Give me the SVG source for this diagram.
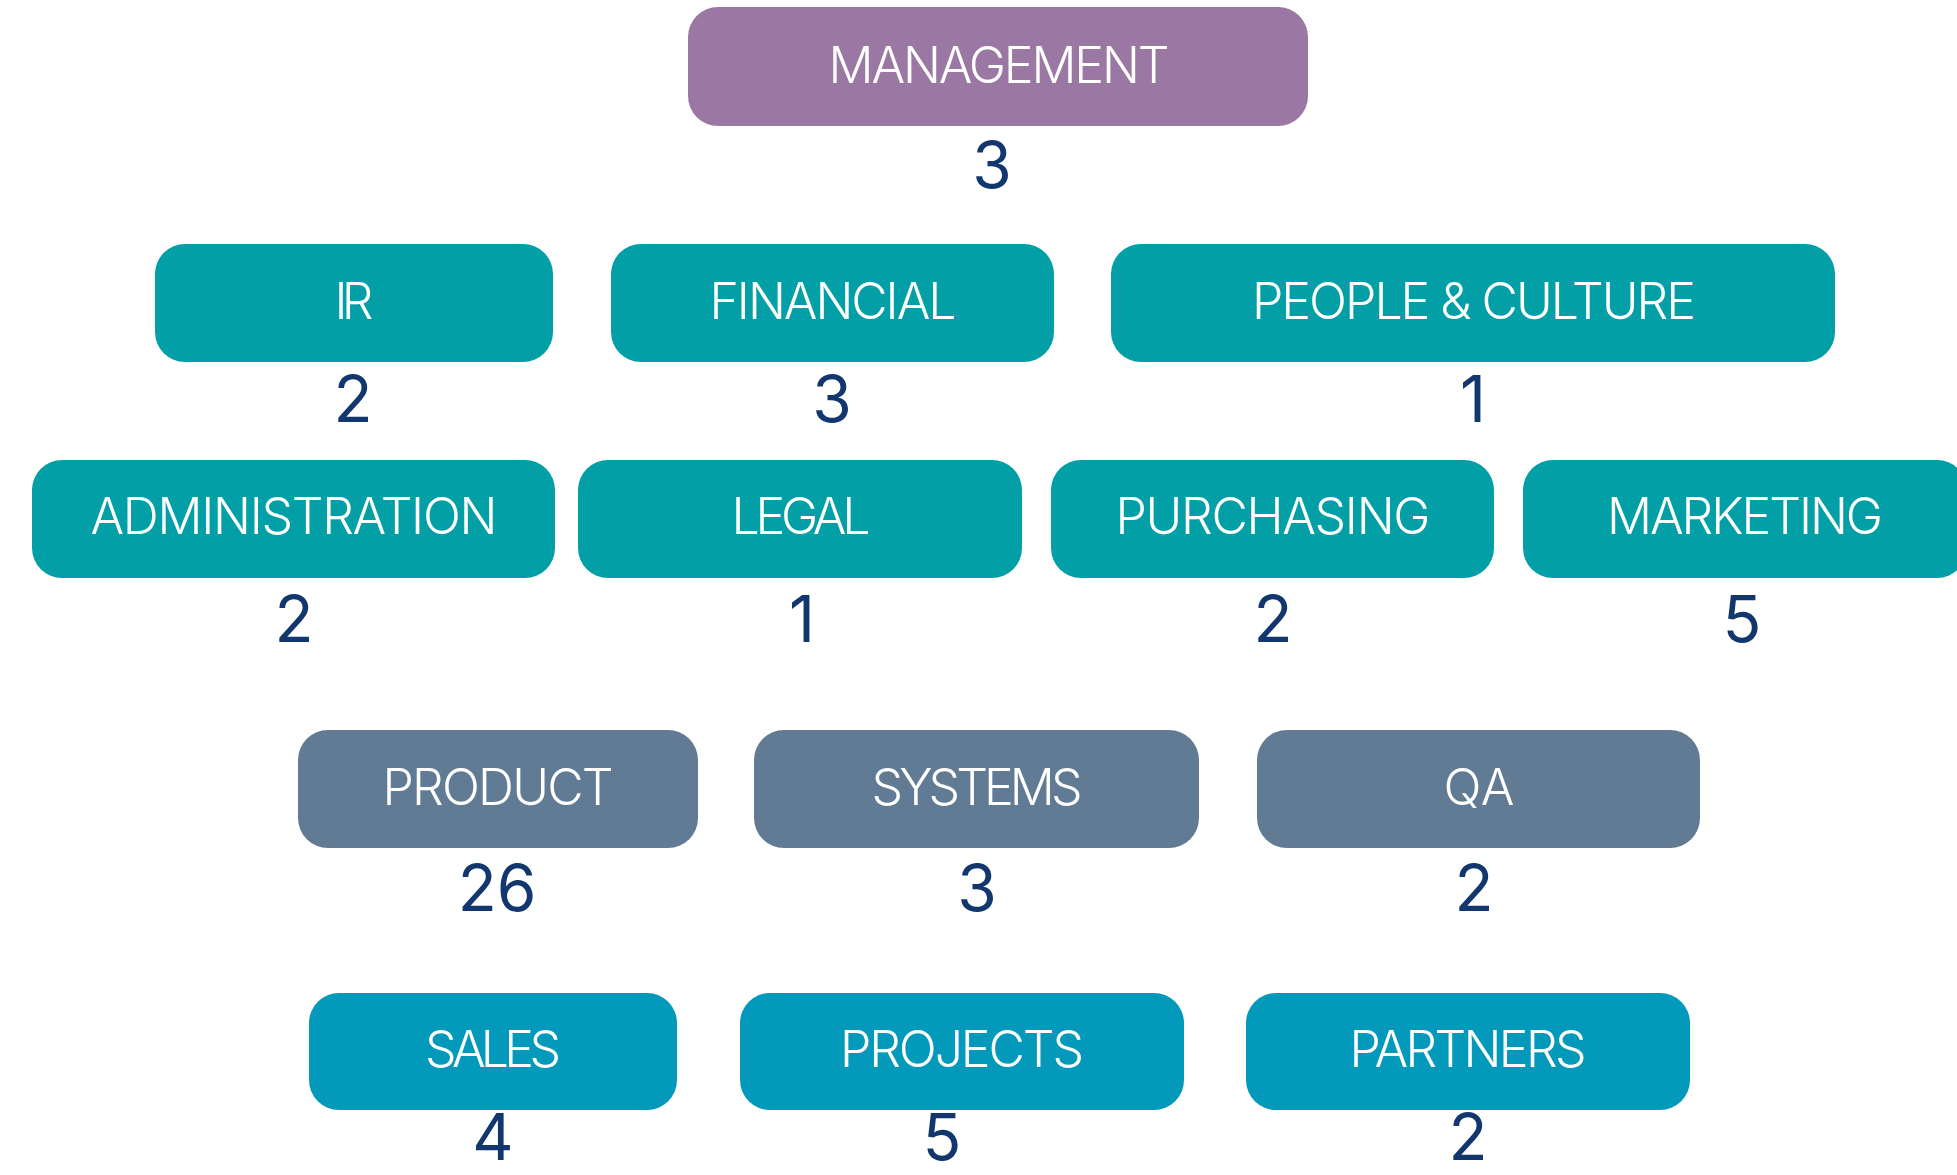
<svg xmlns="http://www.w3.org/2000/svg" width="1957" height="1175" viewBox="0 0 1957 1175">
<style>
.box{stroke:none}
.mg{fill:#9B78A3}
.tl{fill:#039FA6}
.sl{fill:#617B94}
.cy{fill:#0399BA}
.lb{font-family:Inter,"Open Sans","Liberation Sans",sans-serif;font-size:50px;font-weight:300;fill:#ffffff;text-anchor:middle}
.nm{font-family:Inter,"Open Sans","Liberation Sans",sans-serif;font-size:64px;fill:#12366E;text-anchor:middle}
</style>
<rect width="1957" height="1175" fill="#ffffff"/>
<g id="connectors"></g>
<g id="management"><rect class="box mg" x="688" y="7" width="620" height="119" rx="30"/><text class="lb" x="999" y="83" textLength="341">MANAGEMENT</text><text class="nm" x="992" y="188">3</text></g>
<g id="ir"><rect class="box tl" x="155" y="244" width="398" height="118" rx="30"/><text class="lb" x="354" y="319" textLength="39">IR</text><text class="nm" x="353" y="422">2</text></g>
<g id="financial"><rect class="box tl" x="611" y="244" width="443" height="118" rx="30"/><text class="lb" x="833" y="319" textLength="247">FINANCIAL</text><text class="nm" x="832" y="422">3</text></g>
<g id="people-culture"><rect class="box tl" x="1111" y="244" width="724" height="118" rx="30"/><text class="lb" x="1474" y="319" textLength="444">PEOPLE &amp; CULTURE</text><text class="nm" x="1473" y="422">1</text></g>
<g id="administration"><rect class="box tl" x="32" y="460" width="523" height="118" rx="30"/><text class="lb" x="294" y="534" textLength="407">ADMINISTRATION</text><text class="nm" x="294" y="642">2</text></g>
<g id="legal"><rect class="box tl" x="578" y="460" width="444" height="118" rx="30"/><text class="lb" x="801" y="534" textLength="139">LEGAL</text><text class="nm" x="802" y="642">1</text></g>
<g id="purchasing"><rect class="box tl" x="1051" y="460" width="443" height="118" rx="30"/><text class="lb" x="1273" y="534" textLength="315">PURCHASING</text><text class="nm" x="1273" y="642">2</text></g>
<g id="marketing"><rect class="box tl" x="1523" y="460" width="444" height="118" rx="30"/><text class="lb" x="1745" y="534" textLength="276">MARKETING</text><text class="nm" x="1742" y="642">5</text></g>
<g id="product"><rect class="box sl" x="298" y="730" width="400" height="118" rx="30"/><text class="lb" x="498" y="805" textLength="231">PRODUCT</text><text class="nm" x="497" y="911">26</text></g>
<g id="systems"><rect class="box sl" x="754" y="730" width="445" height="118" rx="30"/><text class="lb" x="977" y="805" textLength="211">SYSTEMS</text><text class="nm" x="977" y="911">3</text></g>
<g id="qa"><rect class="box sl" x="1257" y="730" width="443" height="118" rx="30"/><text class="lb" x="1479" y="805" textLength="71">QA</text><text class="nm" x="1474" y="911">2</text></g>
<g id="sales"><rect class="box cy" x="309" y="993" width="368" height="117" rx="30"/><text class="lb" x="493" y="1067" textLength="136">SALES</text><text class="nm" x="493" y="1160">4</text></g>
<g id="projects"><rect class="box cy" x="740" y="993" width="444" height="117" rx="30"/><text class="lb" x="962" y="1067" textLength="244">PROJECTS</text><text class="nm" x="942" y="1160">5</text></g>
<g id="partners"><rect class="box cy" x="1246" y="993" width="444" height="117" rx="30"/><text class="lb" x="1468" y="1067" textLength="237">PARTNERS</text><text class="nm" x="1468" y="1160">2</text></g>
</svg>
